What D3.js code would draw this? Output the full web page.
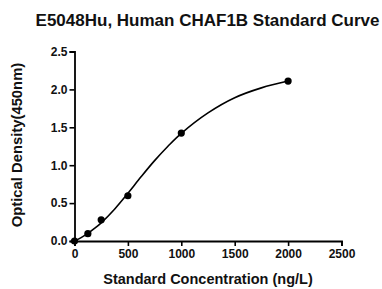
<!DOCTYPE html>
<html><head><meta charset="utf-8">
<script src="https://cdn.jsdelivr.net/npm/d3@7"></script>
<style>html,body{margin:0;padding:0;background:#fff;}svg{display:block;font-family:"Liberation Sans",Arial,sans-serif;}</style>
</head><body><div id="chart"></div>
<script>
const title = "E5048Hu, Human CHAF1B Standard Curve";
const xLabel = "Standard Concentration (ng/L)";
const yLabel = "Optical Density(450nm)";
const concentrations = [0, 125, 250, 500, 1000, 2000];
const odValues = [0.0, 0.096, 0.28, 0.597, 1.424, 2.11];
const curveX = [0, 62, 125, 187, 250, 375, 500, 625, 750, 875, 1000, 1250, 1500, 1750, 2000];
const curveY = [0.0, 0.045, 0.10, 0.165, 0.24, 0.42, 0.63, 0.85, 1.06, 1.25, 1.42, 1.69, 1.89, 2.02, 2.11];
const xTicks = [0, 500, 1000, 1500, 2000, 2500];
const yTicks = [0.0, 0.5, 1.0, 1.5, 2.0, 2.5];

const W = 382, H = 289;
const m = {left: 74.5, right: 40.5, top: 51.5, bottom: 48};
const svg = d3.select("#chart").append("svg").attr("width", W).attr("height", H);
const x = d3.scaleLinear().domain([0, 2500]).range([m.left, W - m.right]);
const y = d3.scaleLinear().domain([0, 2.5]).range([H - m.bottom, m.top]);

svg.append("text").attr("x", 207.5).attr("y", 26).attr("text-anchor", "middle")
  .attr("font-size", 17).attr("font-weight", "bold").attr("fill", "#111").text(title);

const xa = svg.append("g").attr("transform", `translate(0,${H - m.bottom})`)
  .call(d3.axisBottom(x).tickValues(xTicks).tickFormat(d3.format("d")).tickSize(5).tickPadding(3));
const ya = svg.append("g").attr("transform", `translate(${m.left},0)`)
  .call(d3.axisLeft(y).tickValues(yTicks).tickFormat(d3.format(".1f")).tickSize(5).tickPadding(2));
[xa, ya].forEach(g => {
  g.selectAll("path").attr("stroke", "#000").attr("stroke-width", 1.8);
  g.selectAll("line").attr("stroke", "#000").attr("stroke-width", 1.6);
  g.selectAll("text").attr("font-size", 12).attr("font-weight", "bold").attr("fill", "#111")
    .attr("font-family", "Liberation Sans, Arial, sans-serif");
});

svg.append("text").attr("x", 208).attr("y", 284).attr("text-anchor", "middle")
  .attr("font-size", 14.5).attr("font-weight", "bold").attr("fill", "#111").text(xLabel);
svg.append("text").attr("transform", `translate(22,145) rotate(-90)`).attr("text-anchor", "middle")
  .attr("font-size", 14.8).attr("font-weight", "bold").attr("fill", "#111").text(yLabel);

const line = d3.line().x(d => x(d[0])).y(d => y(d[1])).curve(d3.curveCatmullRom.alpha(0.5));
svg.append("path").datum(curveX.map((v, i) => [v, curveY[i]])).attr("d", line)
  .attr("fill", "none").attr("stroke", "#000").attr("stroke-width", 1.6);

svg.append("g").selectAll("circle").data(concentrations.map((v, i) => [v, odValues[i]]))
  .join("circle").attr("cx", d => x(d[0])).attr("cy", d => y(d[1])).attr("r", 3.6).attr("fill", "#000");
</script></body></html>
